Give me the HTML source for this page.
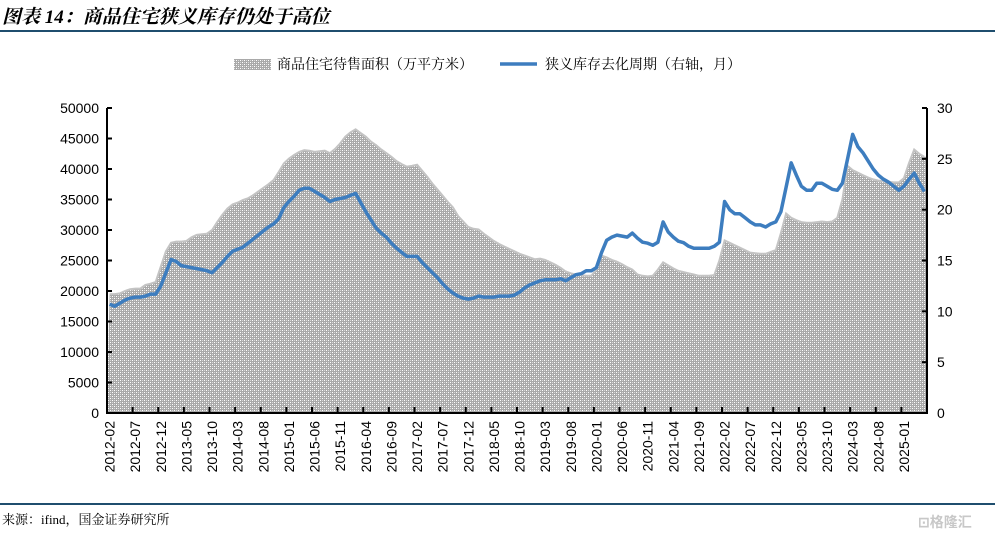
<!DOCTYPE html>
<html><head><meta charset="utf-8">
<style>
body{margin:0;background:#fff;width:995px;height:537px;overflow:hidden;font-family:"Liberation Sans","Noto Sans CJK SC",sans-serif;}
#root{position:relative;width:995px;height:537px;}
.title{position:absolute;left:2px;top:2px;font-size:19px;font-weight:bold;font-style:italic;font-family:"Liberation Serif","Noto Serif CJK SC",serif;color:#000;}
.hr{position:absolute;left:0;width:995px;height:2px;background:#1f4e6e;}
.src{position:absolute;left:2px;top:509px;font-size:13px;font-family:"Liberation Serif","Noto Serif CJK SC",serif;}
</style></head><body>
<div id="root">
<div class="title">图表 14：商品住宅狭义库存仍处于高位</div>
<div class="hr" style="top:30px"></div>
<svg id="chart" width="995" height="537" style="position:absolute;left:0;top:0">
<defs>
<pattern id="dots" width="4" height="4" patternUnits="userSpaceOnUse">
<rect width="4" height="4" fill="#a9a9a9"/>
<rect x="0" y="0" width="1" height="1" fill="#fff"/>
<rect x="2" y="2" width="1" height="1" fill="#fff"/>
<rect x="2" y="0" width="1" height="1" fill="#d8d8d8"/>
<rect x="0" y="2" width="1" height="1" fill="#d8d8d8"/>
</pattern>
</defs>
<g id="plot"></g>
</svg>
<div class="hr" style="top:503px"></div>
<div class="src">来源：ifind，国金证券研究所</div>
<div style="position:absolute;left:918px;top:512px;font-size:14px;color:#c8c8c8;font-weight:bold">⊡格隆汇</div>
</div>
<script>
const startYear=2012,startMonth=2,nMonths=160;
const inventoryArea=[19500,19500,19600,20000,20300,20400,20400,21000,21200,21500,24000,26500,27900,28100,28100,28200,28800,29200,29300,29400,30000,31300,32500,33500,34200,34500,34900,35200,35700,36300,36900,37500,38200,39500,40900,41700,42300,42800,43100,43000,42800,42900,43000,42600,43300,44200,45300,46000,46500,45900,45300,44500,43900,43200,42600,42000,41300,40800,40400,40500,40700,39700,38700,37600,36600,35600,34600,33700,32300,31400,30500,30200,30100,29400,28800,28200,27700,27300,26900,26500,26100,25800,25500,25200,25300,25100,24700,24300,23800,23200,22900,22700,22600,22500,22500,23500,25800,25500,25100,24800,24400,23900,23500,22700,22500,22400,22500,23500,24700,24200,23700,23300,23100,22900,22700,22500,22500,22500,22600,25000,28300,27900,27500,27100,26700,26300,26200,26100,26100,26400,26700,29500,32700,32000,31600,31300,31200,31200,31300,31400,31300,31400,32000,35000,40500,39800,39400,39000,38600,38300,38100,38000,37900,37800,37800,38500,41000,43200,42500,42000];
const destockMonths=[10.7,10.5,10.8,11.1,11.3,11.4,11.4,11.5,11.7,11.7,12.5,13.8,15.1,14.9,14.5,14.4,14.3,14.2,14.1,14.0,13.8,14.3,14.8,15.4,15.9,16.1,16.3,16.7,17.1,17.5,17.9,18.3,18.6,19.1,20.2,20.8,21.3,21.9,22.1,22.1,21.8,21.5,21.2,20.8,21.0,21.1,21.2,21.4,21.6,20.7,19.8,19.0,18.2,17.7,17.3,16.7,16.2,15.8,15.4,15.4,15.4,14.8,14.3,13.8,13.3,12.7,12.2,11.8,11.5,11.3,11.2,11.3,11.5,11.4,11.4,11.4,11.5,11.5,11.5,11.6,11.9,12.3,12.6,12.8,13.0,13.1,13.1,13.1,13.2,13.0,13.3,13.6,13.7,14.0,14.0,14.3,15.8,17.0,17.3,17.5,17.4,17.3,17.7,17.2,16.8,16.7,16.5,16.8,18.8,17.8,17.3,16.9,16.75,16.4,16.2,16.2,16.2,16.2,16.4,16.8,20.8,20.0,19.6,19.6,19.2,18.8,18.5,18.5,18.3,18.6,18.8,19.8,22.2,24.6,23.4,22.3,21.9,21.9,22.6,22.6,22.3,22.0,21.9,22.6,25.0,27.4,26.2,25.6,24.8,24.0,23.4,23.0,22.7,22.3,21.9,22.3,23.0,23.6,22.6,21.8];
const leftTicks=[0,5000,10000,15000,20000,25000,30000,35000,40000,45000,50000];
const rightTicks=[0,5,10,15,20,25,30];

const NS="http://www.w3.org/2000/svg";
const g=document.getElementById('plot');
const L=107,R=927,T=108,B=413;
const step=(R-L)/nMonths;
const xc=i=>L+(i+0.5)*step;
const yL=v=>B-v/50000*(B-T);
const yR=v=>B-v/30*(B-T);
function mk(tag,attrs){const e=document.createElementNS(NS,tag);for(const k in attrs)e.setAttribute(k,attrs[k]);g.appendChild(e);return e;}
function lbl(i){let m=startMonth-1+i;const y=startYear+Math.floor(m/12);m=m%12+1;return y+'-'+(m<10?'0':'')+m;}

// area
let d='M'+L+','+B;
inventoryArea.forEach((v,i)=>{d+=' L'+xc(i).toFixed(1)+','+yL(v).toFixed(1);});
d+=' L'+R+','+yL(inventoryArea[inventoryArea.length-1]).toFixed(1)+' L'+R+','+B+' Z';
const area=mk('path',{d:d,fill:'url(#dots)'});


const edge=mk('polyline',{points:inventoryArea.map((v,i)=>xc(i).toFixed(1)+','+yL(v).toFixed(1)).join(' '),fill:'none',stroke:'#c4c4c4','stroke-width':2});


// line
const line=mk('polyline',{points:destockMonths.map((v,i)=>xc(i).toFixed(1)+','+yR(v).toFixed(1)).join(' '),fill:'none',stroke:'#3d7dbf','stroke-width':3.5,'stroke-linejoin':'round'});


// axes
const ax=mk('path',{d:`M${L},${T} V${B} H${R} V${T}`,fill:'none',stroke:'#000','stroke-width':2});


leftTicks.forEach(v=>{
  const y=yL(v);
  const t=mk('line',{x1:L,x2:L+5,y1:y,y2:y,stroke:'#000','stroke-width':2});
  
  
  const tx=mk('text',{x:L-8,y:y+5,'text-anchor':'end','font-size':14,fill:'#000'});
  tx.textContent=v;
  
  
});
rightTicks.forEach(v=>{
  const y=yR(v);
  const t=mk('line',{x1:R-5,x2:R,y1:y,y2:y,stroke:'#000','stroke-width':2});
  
  
  const tx=mk('text',{x:R+10,y:y+5,'text-anchor':'start','font-size':14,fill:'#000'});
  tx.textContent=v;
  
  
});
for(let i=0;i<nMonths;i+=5){
  const x=L+(i+5)*step;
  if(x<R-1){const t=mk('line',{x1:x,x2:x,y1:B,y2:B-6,stroke:'#000','stroke-width':2});
  
  }
  const xx=xc(i)+5;
  const tx=mk('text',{x:0,y:0,transform:`translate(${xx.toFixed(1)},421) rotate(-90)`,'text-anchor':'end','font-size':14,fill:'#000'});
  tx.textContent=lbl(i);
  
  
}
// legend
const lg1=mk('rect',{x:234,y:59,width:37,height:11,fill:'url(#dots)'});


const lt1=mk('text',{x:277,y:69,'font-size':14,fill:'#000','font-family':'"Liberation Serif","Noto Serif CJK SC",serif'});
lt1.textContent='商品住宅待售面积（万平方米）';


const lg2=mk('line',{x1:500,x2:537,y1:64,y2:64,stroke:'#3d7dbf','stroke-width':3.5});


const lt2=mk('text',{x:545,y:69,'font-size':14,fill:'#000','font-family':'"Liberation Serif","Noto Serif CJK SC",serif'});
lt2.textContent='狭义库存去化周期（右轴，月）';


</script>
</body></html>
